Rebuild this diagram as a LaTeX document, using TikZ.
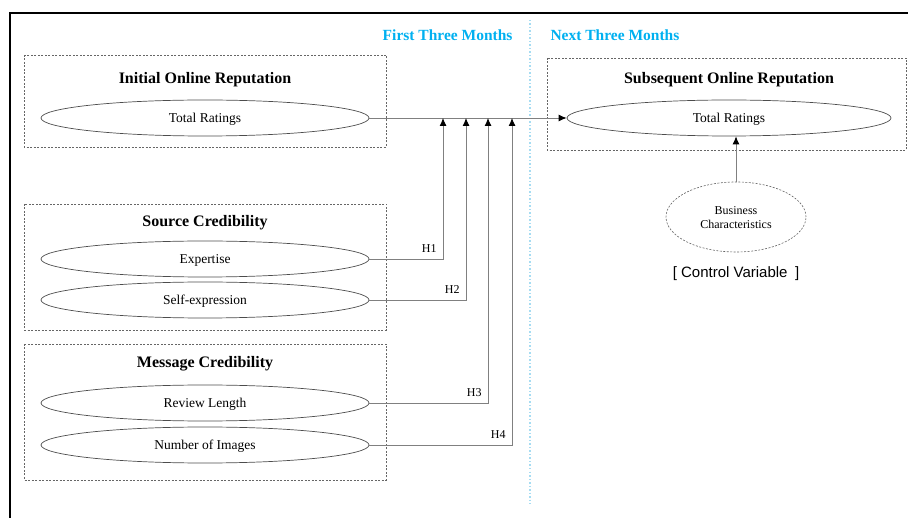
\documentclass[tikz,border=0pt]{standalone}
\usepackage{fontspec}
\setmainfont{Liberation Serif}
\setsansfont{Liberation Sans}
\usetikzlibrary{shapes.geometric, positioning, arrows.meta}

\definecolor{skyblue}{HTML}{00B0F0}
\definecolor{lineblue}{HTML}{A6DCF2}

\tikzset{
  framebox/.style={draw=black!60, dash pattern=on 2pt off 1.5pt, line width=0.6pt},
  varell/.style={ellipse, draw=black!70, line width=0.7pt, minimum width=328pt, minimum height=36pt, inner sep=0pt, text height=9pt, text depth=0pt, font=\fontsize{13.5}{15}\selectfont},
  boxtitle/.style={font=\fontsize{16}{18}\selectfont\bfseries},
  link/.style={draw=black!50, line width=0.9pt, -{Latex[length=8pt,width=7pt,color=black]}},
  hlabel/.style={font=\fontsize{12}{14}\selectfont, anchor=south east, inner sep=0pt, xshift=-6pt, yshift=6pt},
  period/.style={text=skyblue, font=\fontsize{15.5}{18}\selectfont\bfseries}
}

\begin{document}
\begin{tikzpicture}[x=1pt, y=-1pt]
\useasboundingbox (0,0) rectangle (908,518);
\draw[line width=2pt] (9.5,518) -- (9.5,13) -- (908,13);
\draw[lineblue, line width=1.5pt, dotted] (530,20) -- (530,504);
\node[period, anchor=east] (firstMonths) at (516,35) {First Three Months};
\node[period, anchor=west] (nextMonths) at (547,35) {Next Three Months};

\draw[framebox] (24,55) rectangle (386,147);
\node[boxtitle] (initTitle) at (205,80) {Initial Online Reputation};
\node[varell] (initRatings) at (205,118) {Total Ratings};

\draw[framebox] (24,204) rectangle (386,330);
\node[boxtitle] (sourceTitle) at (205,223) {Source Credibility};
\node[varell] (expertise) at (205,259) {Expertise};
\node[varell] (selfExpr) at (205,300) {Self-expression};

\draw[framebox] (24,344) rectangle (386,480);
\node[boxtitle] (msgTitle) at (205,364) {Message Credibility};
\node[varell] (reviewLen) at (205,403) {Review Length};
\node[varell] (numImages) at (205,445) {Number of Images};

\draw[framebox] (547,58) rectangle (906,150);
\node[boxtitle] (subTitle) at (729,80) {Subsequent Online Reputation};
\node[varell, minimum width=324pt] (subRatings) at (729,118) {Total Ratings};

\node[ellipse, draw=black!60, dash pattern=on 2pt off 1.5pt, line width=0.6pt, minimum width=140pt, minimum height=70pt, inner sep=0pt, align=center, font=\fontsize{12}{14}\selectfont] (busChar) at (736,217) {\strut Business\\Characteristics};
\node[below=11pt of busChar, font=\sffamily\fontsize{15}{18}\selectfont] (ctrlVar) {[ Control Variable\enspace]};

\coordinate (h1end) at (443,118);
\coordinate (h2end) at (466,118);
\coordinate (h3end) at (488,118);
\coordinate (h4end) at (512,118);

\draw[link] (initRatings) -- (subRatings);
\draw[link] (expertise.east) -| node[pos=0.5, hlabel] {H1} (h1end);
\draw[link] (selfExpr.east) -| node[pos=0.5, hlabel] {H2} (h2end);
\draw[link] (reviewLen.east) -| node[pos=0.5, hlabel] {H3} (h3end);
\draw[link] (numImages.east) -| node[pos=0.5, hlabel] {H4} (h4end);
\draw[link] (busChar.north) -- (busChar.north |- subRatings.south);

\end{tikzpicture}
\end{document}
